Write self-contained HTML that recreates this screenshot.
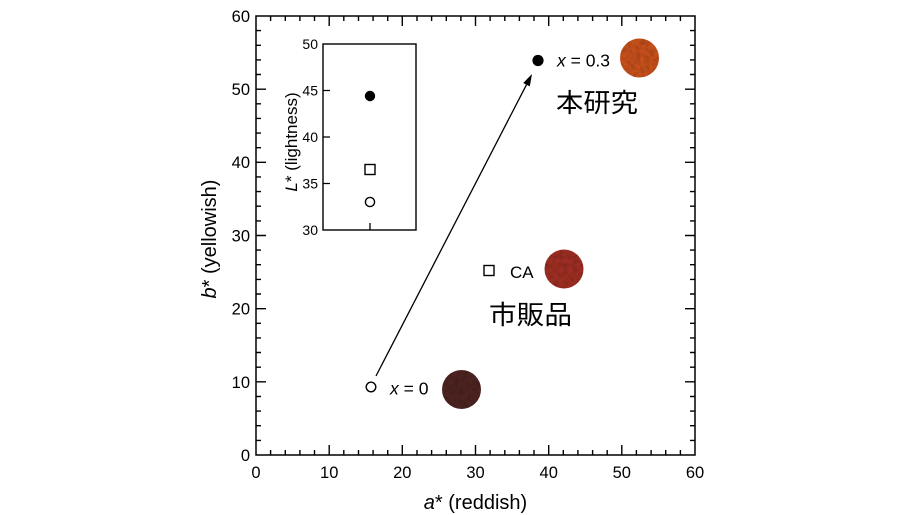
<!DOCTYPE html>
<html>
<head>
<meta charset="utf-8">
<style>
html,body{margin:0;padding:0;background:#fff;}
svg{display:block;}
text{font-family:"Liberation Sans","Noto Sans CJK JP",sans-serif;fill:#000;}
</style>
</head>
<body>
<svg width="900" height="515" viewBox="0 0 900 515" xmlns="http://www.w3.org/2000/svg">
<defs>
  <filter id="tex" x="0" y="0" width="100%" height="100%">
    <feTurbulence type="fractalNoise" baseFrequency="0.22" numOctaves="2" seed="3" result="n"/>
    <feColorMatrix in="n" type="matrix" values="0 0 0 0 0  0 0 0 0 0  0 0 0 0 0  0 0 0 -1.4 0.9" result="a"/>
    <feComposite in="a" in2="SourceGraphic" operator="in"/>
  </filter>
  <clipPath id="c1"><circle cx="639.5" cy="58" r="19.5"/></clipPath>
  <clipPath id="c2"><circle cx="564" cy="269" r="19.5"/></clipPath>
  <clipPath id="c3"><circle cx="461.5" cy="389.5" r="19.5"/></clipPath>
</defs>

<!-- main axes box -->
<rect x="256" y="16" width="439" height="439" fill="none" stroke="#000" stroke-width="1.5"/>

<g stroke="#000" stroke-width="1.4">
<path d="
M329.2 455v-10 M402.3 455v-10 M475.5 455v-10 M548.7 455v-10 M621.8 455v-10
M329.2 16v10 M402.3 16v10 M475.5 16v10 M548.7 16v10 M621.8 16v10
M256 381.8h10 M256 308.7h10 M256 235.5h10 M256 162.3h10 M256 89.2h10
M695 381.8h-10 M695 308.7h-10 M695 235.5h-10 M695 162.3h-10 M695 89.2h-10
"/>
<path d="
M270.6 455v-5 M285.3 455v-5 M299.9 455v-5 M314.5 455v-5
M343.8 455v-5 M358.5 455v-5 M373.1 455v-5 M387.7 455v-5
M417 455v-5 M431.6 455v-5 M446.3 455v-5 M460.9 455v-5
M490.1 455v-5 M504.8 455v-5 M519.4 455v-5 M534 455v-5
M563.3 455v-5 M577.9 455v-5 M592.6 455v-5 M607.2 455v-5
M636.4 455v-5 M651.1 455v-5 M665.7 455v-5 M680.4 455v-5
M270.6 16v5 M285.3 16v5 M299.9 16v5 M314.5 16v5
M343.8 16v5 M358.5 16v5 M373.1 16v5 M387.7 16v5
M417 16v5 M431.6 16v5 M446.3 16v5 M460.9 16v5
M490.1 16v5 M504.8 16v5 M519.4 16v5 M534 16v5
M563.3 16v5 M577.9 16v5 M592.6 16v5 M607.2 16v5
M636.4 16v5 M651.1 16v5 M665.7 16v5 M680.4 16v5
M256 440.4h5 M256 425.7h5 M256 411.1h5 M256 396.5h5
M256 367.2h5 M256 352.5h5 M256 337.9h5 M256 323.3h5
M256 294h5 M256 279.4h5 M256 264.7h5 M256 250.1h5
M256 220.9h5 M256 206.2h5 M256 191.6h5 M256 176.9h5
M256 147.7h5 M256 133.1h5 M256 118.4h5 M256 103.8h5
M256 74.5h5 M256 59.9h5 M256 45.3h5 M256 30.6h5
M695 440.4h-5 M695 425.7h-5 M695 411.1h-5 M695 396.5h-5
M695 367.2h-5 M695 352.5h-5 M695 337.9h-5 M695 323.3h-5
M695 294h-5 M695 279.4h-5 M695 264.7h-5 M695 250.1h-5
M695 220.9h-5 M695 206.2h-5 M695 191.6h-5 M695 176.9h-5
M695 147.7h-5 M695 133.1h-5 M695 118.4h-5 M695 103.8h-5
M695 74.5h-5 M695 59.9h-5 M695 45.3h-5 M695 30.6h-5
"/>
</g>

<!-- y tick labels -->
<g font-size="16.5" text-anchor="end">
<text x="250" y="22">60</text>
<text x="250" y="95">50</text>
<text x="250" y="168">40</text>
<text x="250" y="241.5">30</text>
<text x="250" y="314.5">20</text>
<text x="250" y="388">10</text>
<text x="250" y="461">0</text>
</g>
<!-- x tick labels -->
<g font-size="16.5" text-anchor="middle">
<text x="256" y="478">0</text>
<text x="329.2" y="478">10</text>
<text x="402.3" y="478">20</text>
<text x="475.5" y="478">30</text>
<text x="548.7" y="478">40</text>
<text x="621.8" y="478">50</text>
<text x="695" y="478">60</text>
</g>

<!-- axis labels -->
<text x="475.5" y="509" font-size="20" text-anchor="middle"><tspan font-style="italic">a</tspan>* (reddish)</text>
<text transform="translate(216,239) rotate(-90)" font-size="20" text-anchor="middle"><tspan font-style="italic">b</tspan>* (yellowish)</text>

<!-- inset -->
<rect x="323" y="44" width="93" height="186" fill="none" stroke="#000" stroke-width="1.4"/>
<g stroke="#000" stroke-width="1.3">
<path d="M323 90.5h7 M323 137h7 M323 183.5h7 M370 230v-7"/>
</g>
<g font-size="14" text-anchor="end">
<text x="318" y="49">50</text>
<text x="318" y="95.5">45</text>
<text x="318" y="142">40</text>
<text x="318" y="188.5">35</text>
<text x="318" y="235">30</text>
</g>
<text transform="translate(297,142) rotate(-90)" font-size="17" text-anchor="middle"><tspan font-style="italic">L</tspan>* (lightness)</text>
<circle cx="370" cy="96" r="5.2" fill="#000"/>
<rect x="365" y="164.5" width="10" height="10" fill="#fff" stroke="#000" stroke-width="1.4"/>
<circle cx="370" cy="202" r="4.6" fill="#fff" stroke="#000" stroke-width="1.4"/>

<!-- arrow -->
<line x1="376" y1="376" x2="526.5" y2="84.7" stroke="#000" stroke-width="1.3"/>
<polygon points="532,74 529.8,86.4 523.2,83" fill="#000"/>

<!-- main markers -->
<circle cx="371" cy="387" r="4.8" fill="#fff" stroke="#000" stroke-width="1.4"/>
<rect x="484" y="265.5" width="10" height="10" fill="#fff" stroke="#000" stroke-width="1.4"/>
<circle cx="538" cy="60.5" r="5.6" fill="#000"/>

<!-- annotation text -->
<text x="390" y="394.5" font-size="17.5"><tspan font-style="italic">x</tspan> = 0</text>
<text x="557" y="66.5" font-size="17.5"><tspan font-style="italic">x</tspan> = 0.3</text>
<text x="510" y="278" font-size="17">CA</text>
<text x="556" y="112" font-size="26" textLength="82" lengthAdjust="spacingAndGlyphs">本研究</text>
<text x="489" y="324" font-size="26" textLength="83" lengthAdjust="spacingAndGlyphs">市販品</text>

<!-- powder swatches -->
<circle cx="639.5" cy="58" r="19.5" fill="#c44f1b"/>
<rect x="620" y="38" width="40" height="40" clip-path="url(#c1)" fill="#7a2a0a" filter="url(#tex)" opacity="0.25"/>
<circle cx="564" cy="269" r="19.5" fill="#9b2d22"/>
<rect x="544" y="249" width="40" height="40" clip-path="url(#c2)" fill="#5a140e" filter="url(#tex)" opacity="0.22"/>
<circle cx="461.5" cy="389.5" r="19.5" fill="#4c2320"/>
<rect x="442" y="370" width="40" height="40" clip-path="url(#c3)" fill="#1e0a08" filter="url(#tex)" opacity="0.25"/>
</svg>
</body>
</html>
